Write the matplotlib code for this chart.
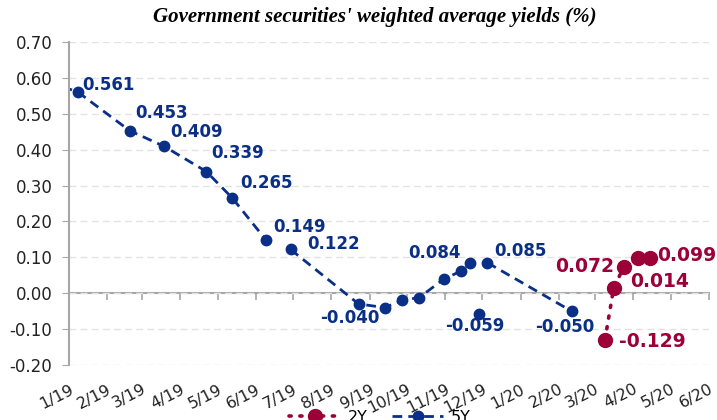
import matplotlib
matplotlib.use('Agg')
import matplotlib.pyplot as plt
import matplotlib.dates as mdates
from matplotlib.ticker import FuncFormatter
import numpy as np
import pandas as pd

# 5Y yields, NaN = break in the line
dates_5y = pd.to_datetime([
    '2018-12-27', '2019-01-08', '2019-02-19', '2019-03-19', '2019-04-22',
    '2019-05-13', '2019-06-09', '2019-06-15',
    '2019-06-29', '2019-08-23', '2019-09-13', '2019-09-27', '2019-10-11',
    '2019-10-31', '2019-11-14', '2019-11-21', '2019-11-24',
    '2019-11-28', '2019-12-01',
    '2019-12-05', '2020-02-11'])
yield_5y = [0.575, 0.561, 0.453, 0.409, 0.339,
            0.265, 0.149, np.nan,
            0.122, -0.030, -0.040, -0.020, -0.012,
            0.040, 0.062, 0.084, np.nan,
            -0.059, np.nan,
            0.085, -0.050]

# 2Y yields
dates_2y = pd.to_datetime(['2020-03-09', '2020-03-16', '2020-03-24',
                           '2020-04-05', '2020-04-14'])
yield_2y = [-0.129, 0.014, 0.072, 0.097, 0.099]

# labelled points: index -> offset in pixels, alignment
labels_5y = {1: (5, 7, 'left'), 2: (6, 18, 'left'), 3: (6, 14, 'left'),
             4: (5, 19, 'left'), 5: (8, 15, 'left'), 6: (7, 13, 'left'),
             8: (17, 5, 'left'), 10: (-5, -10, 'right'),
             15: (-9, 10, 'right'), 17: (-4, -12, 'center'),
             19: (7, 12, 'left'), 20: (-7, -16, 'center')}
labels_2y = {0: (14, -2, 'left'), 1: (16, 7, 'left'),
             2: (-9, 1, 'right'), 4: (8, 2, 'left')}

blue = '#0a2f86'
red = '#9b0036'
gray = '#a6a6a6'

fig = plt.figure(figsize=(7.17, 4.2), dpi=100)
ax = fig.add_axes([0.0962, 0.131, 0.8926, 0.769])

ax.plot(dates_5y, yield_5y, color=blue, linestyle=(0, (3.5, 2.2)), lw=2,
        marker='o', markersize=7.5, label='5Y', clip_on=True)
ax.plot(dates_2y, yield_2y, color=red, linestyle=(0, (0.6, 2.4)), lw=2.6,
        dash_capstyle='round', marker='o', markersize=10, label='2Y',
        clip_on=False)

for i, (dx, dy, ha) in labels_5y.items():
    ax.annotate(f'{yield_5y[i]:.3f}', (dates_5y[i], yield_5y[i]),
                xytext=(dx, dy), textcoords='offset pixels', ha=ha,
                va='center', color=blue, fontsize=12, fontweight='bold')
for i, (dx, dy, ha) in labels_2y.items():
    ax.annotate(f'{yield_2y[i]:.3f}', (dates_2y[i], yield_2y[i]),
                xytext=(dx, dy), textcoords='offset pixels', ha=ha,
                va='center', color=red, fontsize=13.5, fontweight='bold',
                annotation_clip=False)

ax.set_xlim(pd.Timestamp('2019-01-01'), pd.Timestamp('2020-06-01'))
ax.set_ylim(-0.2, 0.7)
ax.set_yticks(np.arange(-0.2, 0.71, 0.1))
ax.yaxis.set_major_formatter(FuncFormatter(lambda v, p: f'{v:.2f}'))
ax.grid(axis='y', color='#e3e3e3', linestyle=(0, (5, 3)), lw=1)
ax.set_axisbelow(True)

ax.xaxis.set_major_locator(mdates.MonthLocator())
ax.xaxis.set_major_formatter(
    FuncFormatter(lambda v, p: f'{mdates.num2date(v).month}/{mdates.num2date(v):%y}'))
ax.tick_params(axis='x', length=0, pad=12, labelsize=11.5, labelcolor='#222222')
plt.setp(ax.get_xticklabels(), rotation=27, ha='right', rotation_mode='anchor')
ax.tick_params(axis='y', length=5, color=gray, labelsize=12,
               labelcolor='#222222', pad=7)

for s in ['top', 'right', 'bottom']:
    ax.spines[s].set_visible(False)
ax.spines['left'].set_color(gray)
ax.spines['left'].set_linewidth(1.5)

# zero axis with month ticks
zero = ax.secondary_xaxis(0.2 / 0.9)
zero.xaxis.set_major_locator(mdates.MonthLocator())
zero.tick_params(axis='x', length=5, color=gray, width=1.2, labelbottom=False)
zero.spines['bottom'].set_color(gray)
zero.spines['bottom'].set_linewidth(1.5)

fig.text(0.523, 0.96, "Government securities' weighted average yields (%)",
         ha='center', va='center', fontsize=15, fontweight='bold',
         fontstyle='italic', family='Liberation Serif')

h, l = ax.get_legend_handles_labels()
fig.legend(h[::-1], l[::-1], loc='center', bbox_to_anchor=(0.53, 0.006),
           ncol=2, frameon=False, fontsize=11.5, handlelength=3.2,
           numpoints=1, columnspacing=1.5, handletextpad=0.5)

fig.savefig('out.png', dpi=100)
